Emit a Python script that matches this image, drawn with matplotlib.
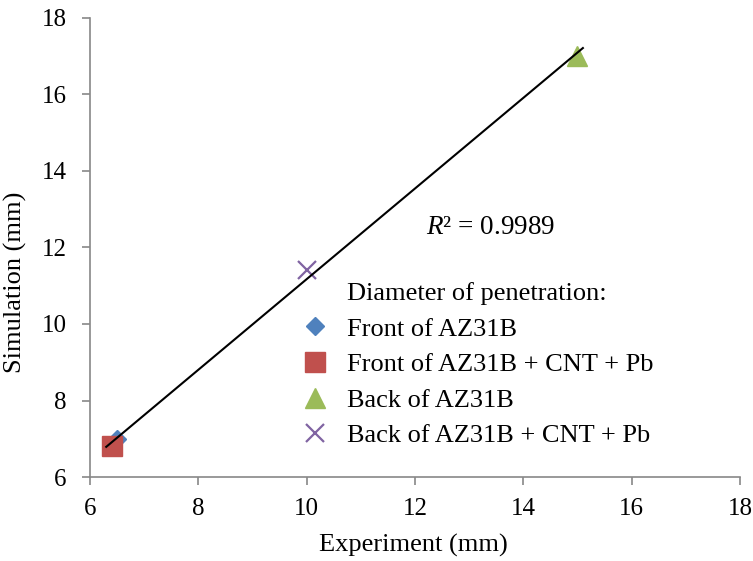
import matplotlib.pyplot as plt
from matplotlib.lines import Line2D
import numpy as np

plt.rcParams['font.family'] = ['Liberation Serif', 'DejaVu Serif']
plt.rcParams['mathtext.fontset'] = 'custom'
plt.rcParams['mathtext.it'] = 'Liberation Serif:italic'
plt.rcParams['mathtext.rm'] = 'Liberation Serif'

# datos (mm)
series = ["Front of AZ31B", "Front of AZ31B + CNT + Pb",
          "Back of AZ31B", "Back of AZ31B + CNT + Pb"]
exp_vals = [6.5, 6.4, 15.0, 10.0]
sim_vals = [7.0, 6.8, 17.0, 11.4]
colores = ['#4F81BD', '#C0504D', '#9BBB59', '#8064A2']
marcadores = ['D', 's', '^', 'x']
tamanos = [9, 14, 14, 13]

fig = plt.figure(figsize=(7.53, 5.61), dpi=100)
ax = fig.add_axes([0.1195, 0.1497, 0.8632, 0.8183])

# entrada vacia para el titulo de la leyenda
titulo = Line2D([], [], ls='none', marker='none', label='Diameter of penetration:')
handles = [titulo]
for i in range(len(series)):
    if marcadores[i] == 'x':
        h, = ax.plot(exp_vals[i], sim_vals[i], marker='x', ms=tamanos[i], mew=1.6,
                     color=colores[i], ls='none', label=series[i])
    else:
        h, = ax.plot(exp_vals[i], sim_vals[i], marker=marcadores[i], ms=tamanos[i],
                     color=colores[i], mec=colores[i], ls='none', label=series[i])
    handles.append(h)

# linea de tendencia (ajuste lineal)
x = np.array(exp_vals)
y = np.array(sim_vals)
m, b = np.polyfit(x, y, 1)
xl = np.array([x.min() - 0.1, x.max() + 0.1])
ax.plot(xl, m * xl + b, color='black', lw=1.5, zorder=3)

ax.text(12.2, 12.53, r'$R$² = 0.9989', fontsize=19.5, va='center')

ax.set_xlim(6, 18)
ax.set_ylim(6, 18)
ax.set_xticks(range(6, 19, 2))
ax.set_yticks(range(6, 19, 2))
ax.set_xlabel('Experiment (mm)', fontsize=19, va='center')
ax.set_ylabel('Simulation (mm)', fontsize=19, va='center', ha='center')
ax.xaxis.set_label_coords(0.497, -0.148)
ax.yaxis.set_label_coords(-0.115, 0.425)
ax.tick_params(labelsize=18, color='#888888', length=6, width=1.2)
ax.tick_params(axis='y', pad=11)
ax.tick_params(axis='x', pad=9)
for lado in ['top', 'right']:
    ax.spines[lado].set_visible(False)
for lado in ['left', 'bottom']:
    ax.spines[lado].set_color('#888888')
    ax.spines[lado].set_linewidth(1.2)

ax.legend(handles=handles, loc='upper left', bbox_to_anchor=(0.326, 0.426),
          frameon=False, fontsize=19, labelspacing=0.46, handletextpad=0.7,
          handlelength=1.0, borderaxespad=0, borderpad=0)

plt.savefig('out.png', dpi=100)
